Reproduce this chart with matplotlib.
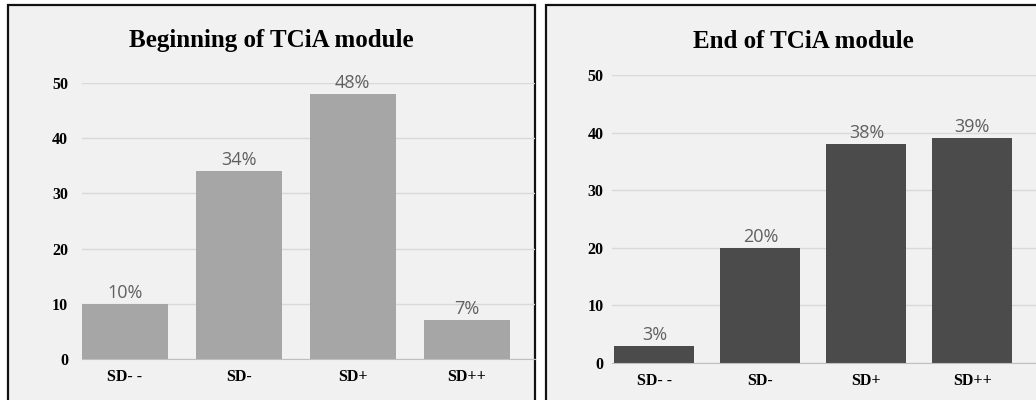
import matplotlib
matplotlib.use('Agg')
import matplotlib.pyplot as plt
from matplotlib.patches import Rectangle

categories = ["SD- -", "SD-", "SD+", "SD++"]
begin_values = [10, 34, 48, 7]
end_values = [3, 20, 38, 39]
y_ticks = [0, 10, 20, 30, 40, 50]

W, H = 1036, 400
fig = plt.figure(figsize=(W / 100, H / 100), dpi=100)
fig.patch.set_facecolor('white')


def px_box(x0, y0, x1, y1):
    # pixel box (top-left origin) -> figure fraction [left, bottom, width, height]
    return [x0 / W, 1 - y1 / H, (x1 - x0) / W, (y1 - y0) / H]


def panel(x0, x1):
    # light panel with black frame
    rect = Rectangle((x0 / W, -0.05), (x1 - x0) / W, 1 - 5 / H + 0.05,
                     transform=fig.transFigure, facecolor='#f1f1f1',
                     edgecolor='#111111', linewidth=1.6, zorder=0)
    fig.add_artist(rect)


def bar_chart(ax, values, color, title, xlim, title_x, ypad):
    ax.set_facecolor('none')
    x = range(len(values))
    bars = ax.bar(x, values, width=0.755, color=color, zorder=3)
    ax.set_ylim(0, 50)
    ax.set_xlim(*xlim)
    ax.set_yticks(y_ticks)
    ax.set_yticklabels([str(t) for t in y_ticks], fontfamily='Liberation Serif',
                       fontweight='bold', fontsize=11.5)
    ax.set_xticks(list(x))
    ax.set_xticklabels(categories, fontfamily='Liberation Serif',
                       fontweight='bold', fontsize=11.5)
    ax.tick_params(axis='x', length=0, pad=7)
    ax.tick_params(axis='y', length=0, pad=ypad)
    ax.grid(axis='y', color='#d9d9d9', linewidth=1, zorder=0)
    for s in ['top', 'right', 'left']:
        ax.spines[s].set_visible(False)
    ax.spines['bottom'].set_color('#bfbfbf')
    ax.spines['bottom'].set_zorder(4)
    for b, v in zip(bars, values):
        ax.annotate(f"{v}%", (b.get_x() + b.get_width() / 2, v),
                    xytext=(0, 1.5), textcoords='offset points',
                    ha='center', va='bottom', fontsize=13,
                    fontfamily='Open Sans', color='#606060',
                    annotation_clip=False)
    fig.text(title_x, 1 - 41 / H, title, ha='center', va='center',
             fontfamily='Liberation Serif', fontweight='bold', fontsize=18)


panel(8, 535)
panel(546, 1045)

ax1 = fig.add_axes(px_box(82, 83, 535, 359))
bar_chart(ax1, begin_values, '#a6a6a6', "Beginning of TCiA module",
          (-0.377, 3.6), 271 / W, 10)

ax2 = fig.add_axes(px_box(612, 75, 1036, 363))
bar_chart(ax2, end_values, '#4b4b4b', "End of TCiA module",
          (-0.40, 3.6), 803 / W, 6)

fig.savefig('out.png', dpi=100)
